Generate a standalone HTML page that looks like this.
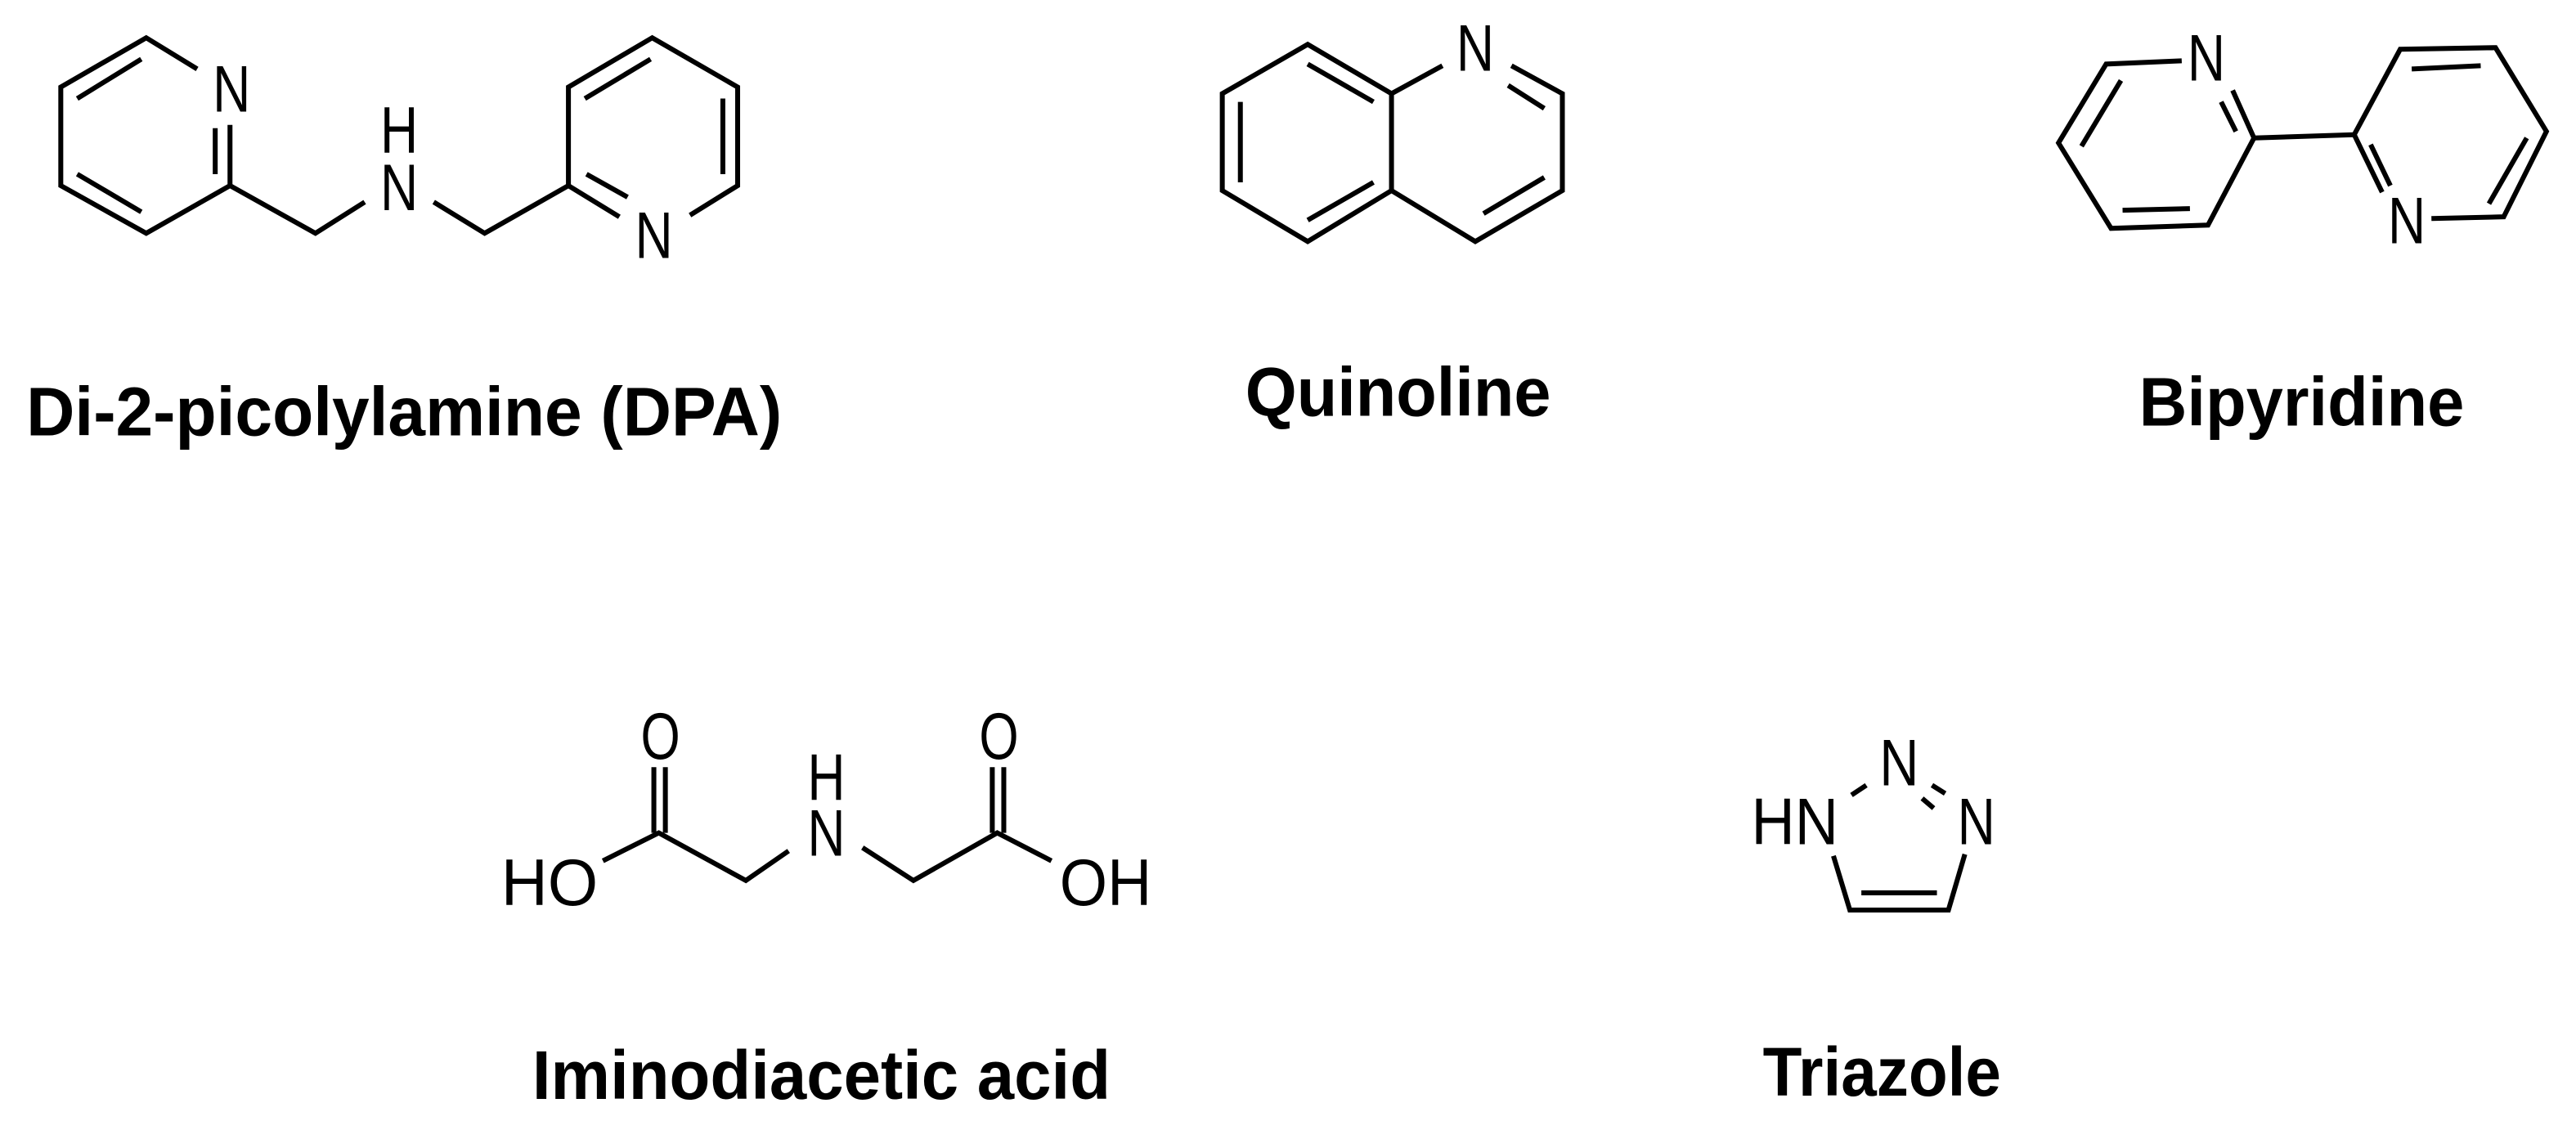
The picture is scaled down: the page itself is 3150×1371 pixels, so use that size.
<!DOCTYPE html>
<html><head><meta charset="utf-8"><style>
html,body{margin:0;padding:0;background:#fff;}
svg{display:block;}
.b{stroke:#000;stroke-width:3;fill:none;stroke-linecap:butt;stroke-linejoin:miter;}
.a{font-family:"Liberation Sans",sans-serif;font-size:40px;fill:#000;}
.l{font-family:"Liberation Sans",sans-serif;font-weight:bold;font-size:42px;fill:#000;}
</style></head><body>
<svg width="3150" height="1371" viewBox="0 0 1568 682.4" preserveAspectRatio="none" xmlns="http://www.w3.org/2000/svg">
<rect width="1568" height="682.4" fill="#fff"/>
<!-- DPA -->
<g class="b">
<polyline points="120,42 89,23 37,53 37,113 89,142 140,113 140,76"/>
<line x1="86" y1="36" x2="47" y2="60"/>
<line x1="47" y1="106" x2="86" y2="129"/>
<line x1="131" y1="78" x2="131" y2="106"/>
<polyline points="140,113 192,142 222,123"/>
<polyline points="264,123 295,142 346,113 346,53 397,23 449,53 449,113 420,131"/>
<polyline points="346,113 377,132"/>
<line x1="356" y1="60" x2="396" y2="36"/>
<line x1="440" y1="60" x2="440" y2="106"/>
<line x1="357" y1="106" x2="382" y2="120"/>
</g>
<text class="a" x="141" y="68" text-anchor="middle" textLength="23" lengthAdjust="spacingAndGlyphs">N</text>
<text class="a" x="243" y="93" text-anchor="middle" textLength="23" lengthAdjust="spacingAndGlyphs">H</text>
<text class="a" x="243" y="128" text-anchor="middle" textLength="23" lengthAdjust="spacingAndGlyphs">N</text>
<text class="a" x="398" y="157" text-anchor="middle" textLength="23" lengthAdjust="spacingAndGlyphs">N</text>
<text class="l" x="16" y="265" textLength="460" lengthAdjust="spacingAndGlyphs">Di-2-picolylamine (DPA)</text>
<!-- Quinoline -->
<g class="b">
<polyline points="878,40 847,57 796,27 744,57 744,116 796,147 847,116 847,57"/>
<polyline points="847,116 898,147 951,116 951,57 920,40"/>
<line x1="755" y1="62" x2="755" y2="111"/>
<line x1="796" y1="39" x2="836" y2="62"/>
<line x1="836" y1="111" x2="796" y2="134"/>
<line x1="918" y1="52" x2="940" y2="66"/>
<line x1="940" y1="108" x2="903" y2="130"/>
</g>
<text class="a" x="898" y="43" text-anchor="middle" textLength="23" lengthAdjust="spacingAndGlyphs">N</text>
<text class="l" x="758" y="253" textLength="186" lengthAdjust="spacingAndGlyphs">Quinoline</text>
<!-- Bipyridine -->
<g class="b">
<polyline points="1328,37 1282,39 1253,87 1285,139 1344,137 1372,84 1359,55"/>
<line x1="1291" y1="49" x2="1267" y2="89"/>
<line x1="1292" y1="128" x2="1333" y2="127"/>
<line x1="1361" y1="80" x2="1352" y2="62"/>
<line x1="1372" y1="84" x2="1433" y2="82"/>
<polyline points="1450,117 1433,82 1461,30 1519,29 1550,80 1524,132 1480,133"/>
<line x1="1443" y1="88" x2="1455" y2="113"/>
<line x1="1468" y1="42" x2="1510" y2="40"/>
<line x1="1538" y1="84" x2="1515" y2="124"/>
</g>
<text class="a" x="1343" y="49" text-anchor="middle" textLength="23" lengthAdjust="spacingAndGlyphs">N</text>
<text class="a" x="1465" y="148" text-anchor="middle" textLength="23" lengthAdjust="spacingAndGlyphs">N</text>
<text class="l" x="1302" y="259" textLength="198" lengthAdjust="spacingAndGlyphs">Bipyridine</text>
<!-- Iminodiacetic acid -->
<g class="b">
<polyline points="367,524 401,507 454,536 480,518"/>
<polyline points="525,516 556,536 607,507 640,524"/>
<line x1="398" y1="467" x2="398" y2="507"/>
<line x1="405" y1="467" x2="405" y2="507"/>
<line x1="604" y1="467" x2="604" y2="507"/>
<line x1="611" y1="467" x2="611" y2="507"/>
</g>
<text class="a" x="305" y="551" textLength="59" lengthAdjust="spacingAndGlyphs">HO</text>
<text class="a" x="402" y="462" text-anchor="middle" textLength="24" lengthAdjust="spacingAndGlyphs">O</text>
<text class="a" x="608" y="462" text-anchor="middle" textLength="24" lengthAdjust="spacingAndGlyphs">O</text>
<text class="a" x="503" y="487" text-anchor="middle" textLength="23" lengthAdjust="spacingAndGlyphs">H</text>
<text class="a" x="503" y="521" text-anchor="middle" textLength="23" lengthAdjust="spacingAndGlyphs">N</text>
<text class="a" x="645" y="551" textLength="56" lengthAdjust="spacingAndGlyphs">OH</text>
<text class="l" x="324" y="669" textLength="352" lengthAdjust="spacingAndGlyphs">Iminodiacetic acid</text>
<!-- Triazole -->
<g class="b">
<line x1="1127" y1="484" x2="1136" y2="478"/>
<line x1="1176" y1="478" x2="1184" y2="483"/>
<line x1="1170" y1="486" x2="1177" y2="492"/>
<polyline points="1116,521 1126,554 1186,554 1196,520"/>
<line x1="1133" y1="543.5" x2="1179" y2="543.5"/>
</g>
<text class="a" x="1156" y="478" text-anchor="middle" textLength="24" lengthAdjust="spacingAndGlyphs">N</text>
<text class="a" x="1066" y="514" textLength="53" lengthAdjust="spacingAndGlyphs">HN</text>
<text class="a" x="1203" y="514" text-anchor="middle" textLength="23" lengthAdjust="spacingAndGlyphs">N</text>
<text class="l" x="1073" y="667" textLength="145" lengthAdjust="spacingAndGlyphs">Triazole</text>
</svg>
</body></html>
